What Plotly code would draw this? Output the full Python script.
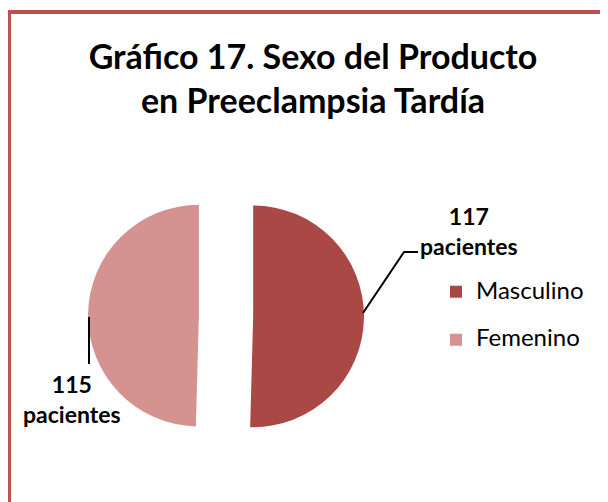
import plotly.graph_objects as go

labels = ["Masculino", "Femenino"]
values = [117, 115]
colors = ["#AA4846", "#D49391"]
label_texts = ["117<br>pacientes", "115<br>pacientes"]
title_text = "<b>Gráfico 17. Sexo del Producto<br>en Preeclampsia Tardía</b>"

W, H = 608, 502
OFF = 8  # page body margin


def px(x):
    return (x - OFF) / W


def py(y):
    return 1 - (y - OFF) / H


legend_labels = [f'<span style="font-size:24px">{l}</span><br> ' for l in labels]

fig = go.Figure(go.Pie(
    labels=legend_labels, values=values, sort=False, direction="clockwise", rotation=0,
    customdata=labels,
    marker=dict(colors=colors, line=dict(width=0)),
    pull=[0.245, 0.245], textinfo="none",
    hovertemplate="%{customdata}: %{value}<extra></extra>",
    domain=dict(x=[px(88), px(364)], y=[py(454), py(178)]),
))

fig.update_layout(
    width=W, height=H, margin=dict(l=0, r=0, t=0, b=0),
    paper_bgcolor="white", plot_bgcolor="white",
    font=dict(family="Lato", color="black"),
    title=dict(text=title_text, x=px(313), xanchor="center", xref="paper",
               y=py(69), yanchor="middle", yref="paper",
               font=dict(size=34, family="Lato", color="black")),
    legend=dict(x=px(436), y=py(274), xanchor="left", yanchor="top",
                font=dict(size=17.3, family="Lato"), itemwidth=30,
                traceorder="normal", valign="top"),
    showlegend=True,
)

# chart border
fig.add_shape(type="rect", xref="paper", yref="paper",
              x0=px(9), x1=1.05, y0=-0.05, y1=py(12),
              line=dict(color="#C0504D", width=4), fillcolor="rgba(0,0,0,0)")

# leader lines
fig.add_shape(type="path", xref="paper", yref="paper",
              path=f"M {px(363)} {py(313)} L {px(404)} {py(252)} L {px(418)} {py(252)}",
              line=dict(color="black", width=2))
fig.add_shape(type="line", xref="paper", yref="paper",
              x0=px(89), x1=px(89), y0=py(317), y1=py(364),
              line=dict(color="black", width=2))

fig.add_annotation(text=f"<b>{label_texts[0]}</b>", x=px(469), y=py(231), xref="paper", yref="paper",
                   xanchor="center", yanchor="middle",
                   showarrow=False, font=dict(size=23, family="Lato"), align="center")
fig.add_annotation(text=f"<b>{label_texts[1]}</b>", x=px(72), y=py(399), xref="paper", yref="paper",
                   xanchor="center", yanchor="middle",
                   showarrow=False, font=dict(size=23, family="Lato"), align="center")

fig.write_html("out.html")
